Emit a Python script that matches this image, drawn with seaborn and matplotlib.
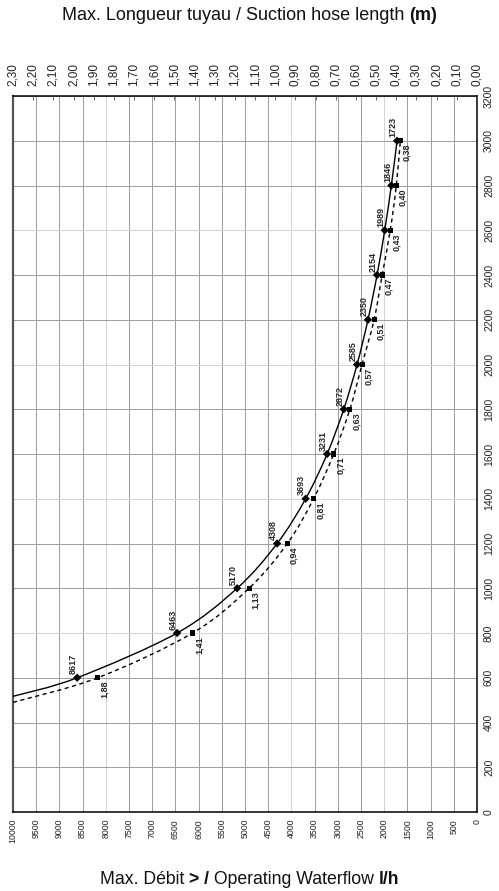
import numpy as np
import pandas as pd
import matplotlib.pyplot as plt
import seaborn as sns
from matplotlib.path import Path
from matplotlib.patches import PathPatch

# pump speed (right axis) for every marked point
rpm = [600, 800, 1000, 1200, 1400, 1600, 1800, 2000, 2200, 2400, 2600, 2800, 3000]
# max operating waterflow l/h (solid curve, bottom axis)
flow = [8617, 6463, 5170, 4308, 3693, 3231, 2872, 2585, 2350, 2154, 1989, 1846, 1723]
# max suction hose length m (dashed curve, top axis)
length = [1.88, 1.41, 1.13, 0.94, 0.81, 0.71, 0.63, 0.57, 0.51, 0.47, 0.43, 0.40, 0.38]
# where each curve leaves the chart at the left edge
flow_edge = (10000, 517)
length_edge = (2.30, 490)

flow_ticks = list(range(0, 10001, 500))
length_ticks = [round(i * 0.1, 2) for i in range(24)]
rpm_ticks = list(range(0, 3201, 200))
# grid lines that come out paler in the scan
pale_flow = [2000, 4000, 8000]
pale_rpm = [800, 1400, 2000, 2600]

sns.set_theme(style="white")
plt.rcParams['font.family'] = ['Liberation Sans', 'DejaVu Sans']

W, H = 499, 891
fig = plt.figure(figsize=(W / 100, H / 100), dpi=100)
ax = fig.add_axes([13 / W, (H - 812) / H, 464 / W, 716 / H])


def smooth_curve(axis, xs, ys, **kw):
    # catmull-rom through the points, drawn as bezier pieces in data coords
    p = np.column_stack([xs, ys]).astype(float)
    p = np.vstack([p[0], p, p[-1]])
    verts, codes = [p[1]], [Path.MOVETO]
    for i in range(1, len(p) - 2):
        c1 = p[i] + (p[i + 1] - p[i - 1]) / 6
        c2 = p[i + 1] - (p[i + 2] - p[i]) / 6
        verts += [c1, c2, p[i + 1]]
        codes += [Path.CURVE4] * 3
    axis.add_patch(PathPatch(Path(verts, codes), fill=False, **kw))


smooth_curve(ax, [flow_edge[0]] + flow, [flow_edge[1]] + rpm, color='black', lw=1, zorder=4)
sns.scatterplot(x=flow, y=rpm, marker='D', s=18, color='black',
                edgecolor='none', ax=ax, zorder=5)

ax.set_xlim(10000, 0)
ax.set_ylim(0, 3200)
ax.set_xticks(flow_ticks)
ax.set_xticklabels([str(v) for v in flow_ticks], rotation=90, fontsize=6.3, color='#222222')
ax.yaxis.tick_right()
ax.set_yticks(rpm_ticks)
ax.set_yticklabels([str(v) for v in rpm_ticks], rotation=90, va='center', fontsize=7.5, color='#222222')
ax.tick_params(axis='both', length=0, pad=5)
ax.grid(True, color='#9c9c9c', lw=0.7)
for v, g in zip(flow_ticks, ax.get_xgridlines()):
    if v in pale_flow:
        g.set_color('#d2d2d2')
for v, g in zip(rpm_ticks, ax.get_ygridlines()):
    if v in pale_rpm:
        g.set_color('#d2d2d2')
ax.set_xlabel('')
ax.set_ylabel('')
for s in ax.spines.values():
    s.set_color('black')
    s.set_linewidth(1.1)
ax.spines['left'].set_color('#555555')
ax.spines['left'].set_linewidth(1.6)

ax2 = ax.twiny()
ax2.set_xlim(2.30, 0)
ax2.set_ylim(0, 3200)
smooth_curve(ax2, [length_edge[0]] + length, [length_edge[1]] + rpm, color='black',
             lw=1, ls=(0, (3, 2.5)), zorder=4)
sns.scatterplot(x=length, y=rpm, marker='s', s=13, color='black',
                edgecolor='none', ax=ax2, zorder=5)
ax2.set_xlim(2.30, 0)
ax2.set_ylim(0, 3200)
ax2.set_xticks(length_ticks)
ax2.set_xticklabels([f"{v:.2f}".replace('.', ',') for v in length_ticks],
                    rotation=90, fontsize=8.5, color='#222222')
ax2.tick_params(axis='x', direction='in', length=3, width=0.6, color='#555555', pad=7)
ax2.set_xlabel('')
ax2.set_ylabel('')
ax2.grid(False)
for s in ax2.spines.values():
    s.set_visible(False)

for f, r in zip(flow, rpm):
    ax.annotate(str(f), (f, r), xytext=(0.5, 2.5), textcoords='offset points',
                rotation=90, ha='right', va='bottom', fontsize=6.5, fontweight='bold')
for l, r in zip(length, rpm):
    ax2.annotate(f"{l:.2f}".replace('.', ','), (l, r), xytext=(1.5, -2),
                 textcoords='offset points', rotation=90, ha='left', va='top',
                 fontsize=6.5, fontweight='bold')


def rich_text(y, parts, size):
    rend = fig.canvas.get_renderer()
    texts = [fig.text(0, y, s, fontsize=size, fontweight=w, va='center', color='#111111')
             for s, w in parts]
    widths = [t.get_window_extent(rend).width for t in texts]
    x = (fig.bbox.width - sum(widths)) / 2
    for t, w in zip(texts, widths):
        t.set_x(x / fig.bbox.width)
        x += w


rich_text(1 - 16 / H, [('Max. Longueur tuyau / Suction hose length ', 'normal'), ('(m)', 'bold')], 13)
rich_text(1 - 880 / H, [('Max. Débit ', 'normal'), ('> /', 'bold'),
                         (' Operating Waterflow ', 'normal'), ('l/h', 'bold')], 12.7)

fig.savefig('out.png', dpi=100)
